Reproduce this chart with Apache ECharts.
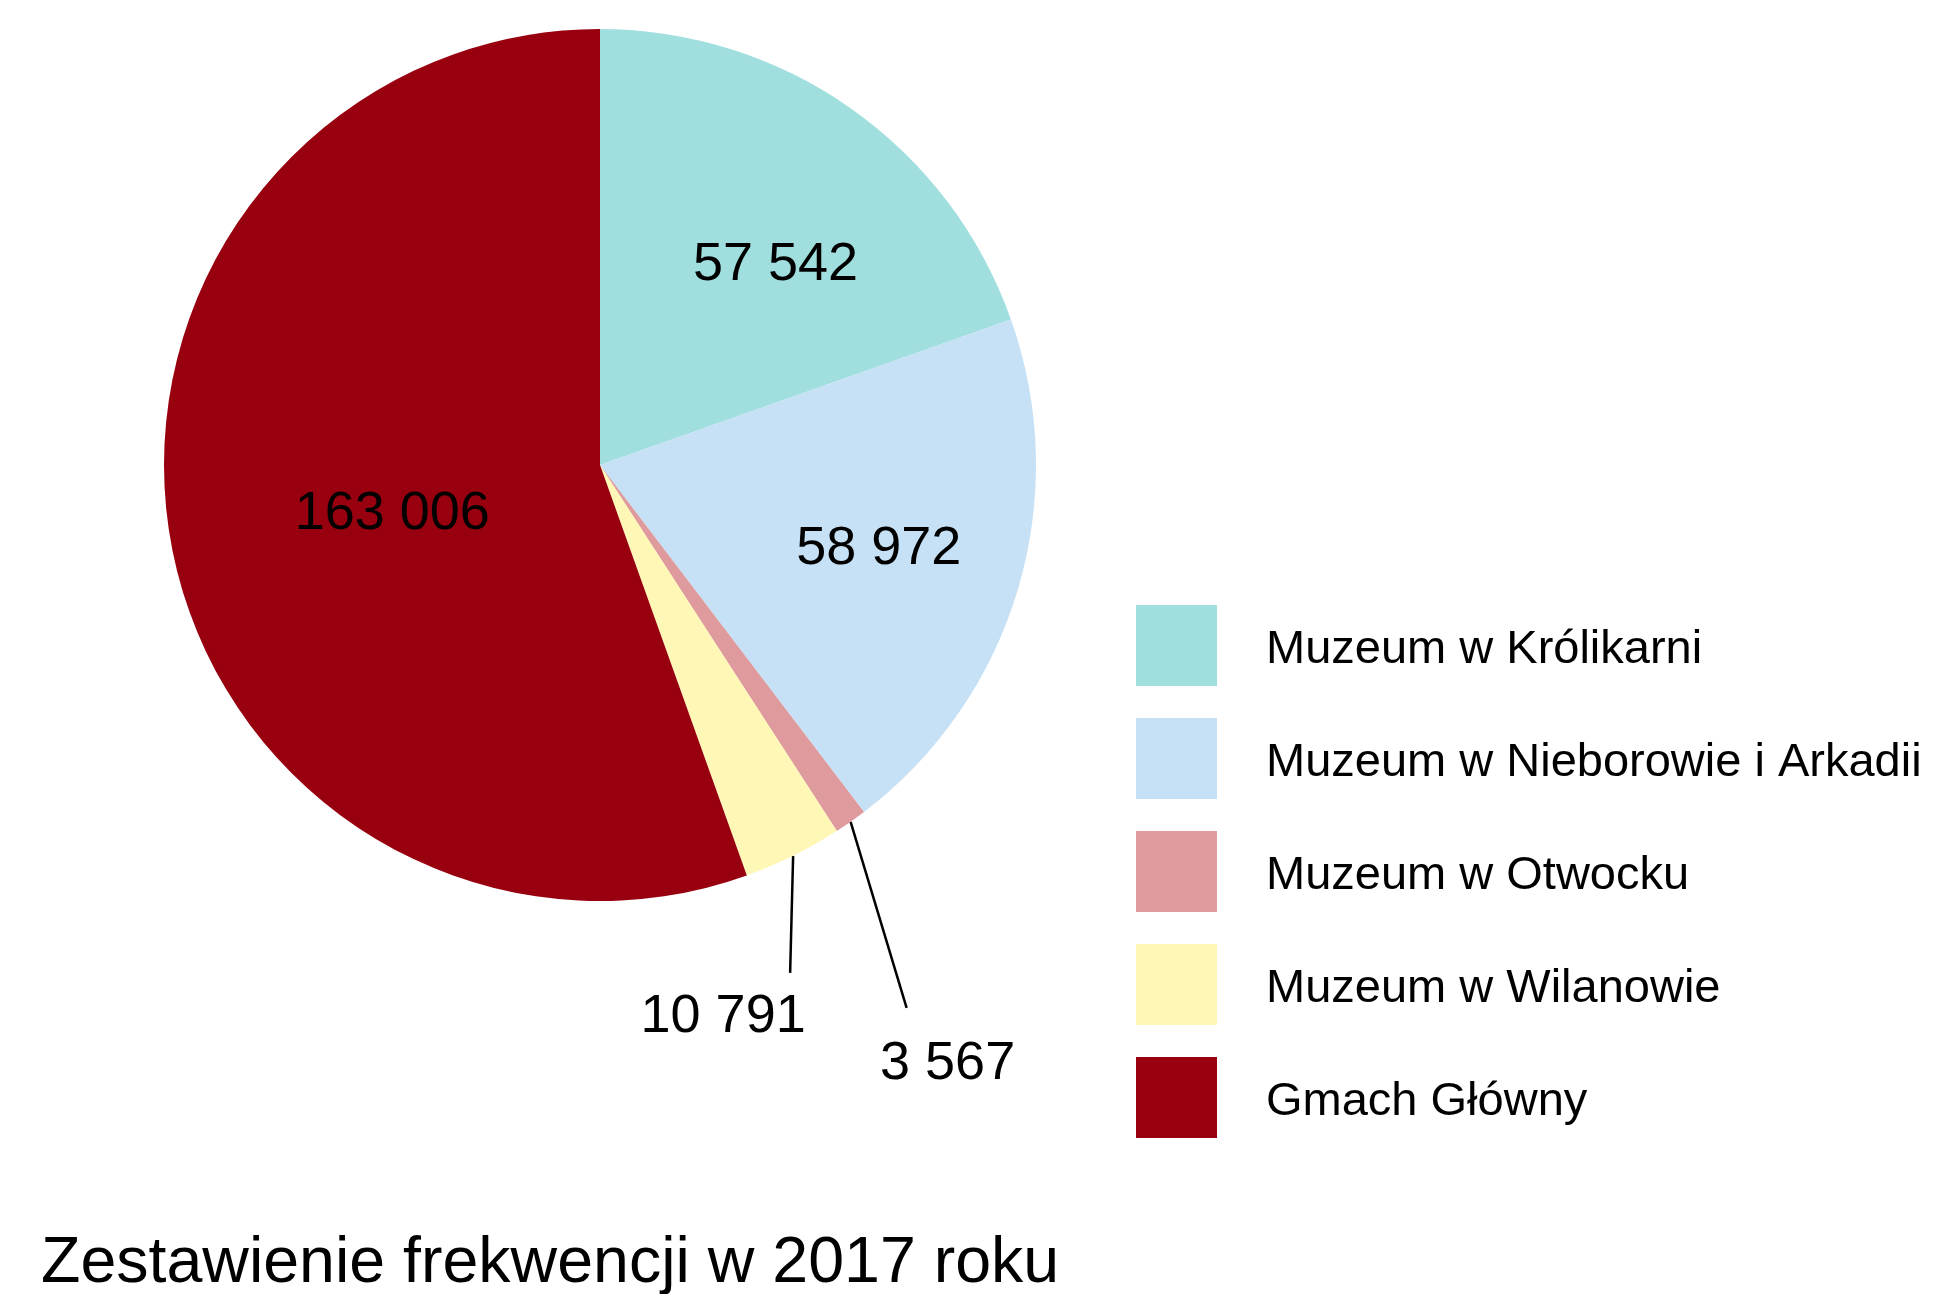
<!DOCTYPE html>
<html>
<head>
<meta charset="utf-8">
<script src="https://cdn.jsdelivr.net/npm/echarts@6/dist/echarts.min.js"></script>
<style>
  html, body { margin: 0; padding: 0; background: #fff; }
  #chart { width: 1943px; height: 1294px; }
</style>
</head>
<body>
<div id="chart"></div>
<script>
// dane: frekwencja 2017
const museums = [
  "Muzeum w Królikarni",
  "Muzeum w Nieborowie i Arkadii",
  "Muzeum w Otwocku",
  "Muzeum w Wilanowie",
  "Gmach Główny"
];
const visitors = [57542, 58972, 3567, 10791, 163006];
const colors = ["#a1dfdf", "#c6e1f5", "#de9a9c", "#fff7b6", "#98000f"];

// ktore etykiety sa poza kolem
const outside = [false, false, true, true, false];
// przesuniecia etykiet (wewnatrz: dx/dy, na zewnatrz: wzgledem poczatku linii)
const labelShift = [[48, -19], [67, 21], [97, 242], [-70, 161], [10, 11]];
const lineShift = [null, null, [56, 186], [-3, 117], null];

const FONT = "'Liberation Sans', Arial, sans-serif";

function fmt(v) {
  return String(v).replace(/\B(?=(\d{3})+(?!\d))/g, " ");
}

const chart = echarts.init(document.getElementById("chart"));

chart.setOption({
  animation: false,
  backgroundColor: "#fff",
  title: {
    text: "Zestawienie frekwencji w 2017 roku",
    left: 36,
    top: 1227,
    textStyle: { fontFamily: FONT, fontSize: 64.5, fontWeight: "normal", color: "#000" }
  },
  legend: {
    orient: "vertical",
    left: 1136,
    top: 605,
    padding: 0,
    icon: "rect",
    itemWidth: 81,
    itemHeight: 81,
    itemGap: 32,
    selectedMode: false,
    data: museums,
    formatter: "{t|{name}}",
    textStyle: {
      rich: {
        t: {
          fontFamily: FONT,
          fontSize: 47,
          color: "#000",
          padding: [10, 0, 0, 44]
        }
      }
    }
  },
  series: [
    {
      type: "pie",
      center: [600, 465],
      radius: 436,
      startAngle: 90,
      clockwise: true,
      avoidLabelOverlap: false,
      silent: true,
      label: {
        show: true,
        position: "inside",
        fontFamily: FONT,
        fontSize: 54,
        color: "#000",
        formatter: function (p) { return fmt(p.value); }
      },
      labelLine: { show: false },
      labelLayout: function (p) {
        const i = p.dataIndex;
        const s = labelShift[i];
        if (outside[i] && p.labelLinePoints) {
          const p0 = p.labelLinePoints[0];
          const l = lineShift[i];
          return {
            x: p0[0] + s[0],
            y: p0[1] + s[1],
            align: "center",
            verticalAlign: "middle",
            labelLinePoints: [p0, [p0[0] + l[0], p0[1] + l[1]]]
          };
        }
        return { dx: s[0], dy: s[1] };
      },
      data: museums.map(function (n, i) {
        const item = { name: n, value: visitors[i], itemStyle: { color: colors[i] } };
        if (outside[i]) {
          item.label = { position: "outside" };
          item.labelLine = { show: true, length: 60, length2: 0, lineStyle: { color: "#000", width: 2.5 } };
        }
        return item;
      })
    }
  ]
});
</script>
</body>
</html>
